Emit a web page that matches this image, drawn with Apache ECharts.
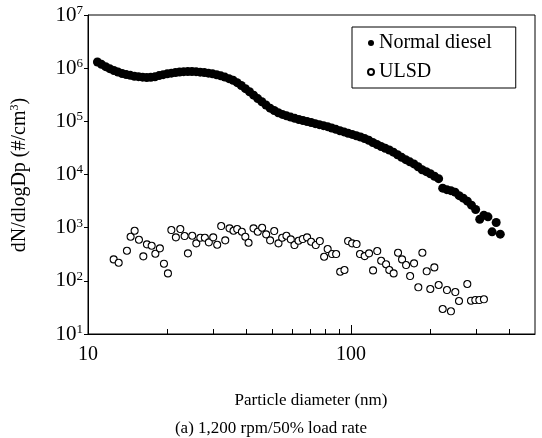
<!DOCTYPE html>
<html>
<head>
<meta charset="utf-8">
<script src="https://cdn.jsdelivr.net/npm/echarts@6/dist/echarts.min.js"></script>
<style>html,body{margin:0;padding:0;background:#fff}#c{width:542px;height:438px}</style>
</head>
<body>
<div id="c"></div>
<script>
const diameterNormal = [10.86, 11.25, 11.67, 12.09, 12.54, 13.00, 13.48, 13.97, 14.48, 15.01, 15.56, 16.13, 16.72, 17.33, 17.97, 18.63, 19.31, 20.01, 20.75, 21.51, 22.29, 23.11, 23.96, 24.84, 25.75, 26.69, 27.67, 28.69, 29.74, 30.83, 31.96, 33.13, 34.35, 35.60, 36.90, 38.25, 39.66, 41.11, 42.61, 44.17, 45.79, 47.47, 49.21, 51.01, 52.87, 54.81, 56.82, 58.90, 61.06, 63.30, 65.62, 68.02, 70.51, 73.09, 75.77, 78.55, 81.43, 84.41, 87.50, 90.71, 94.03, 97.46, 101.0, 104.7, 108.6, 112.5, 116.7, 120.9, 125.4, 130.0, 134.8, 139.7, 144.8, 150.1, 155.6, 161.3, 167.2, 173.3, 179.7, 186.2, 193.1, 200.1, 207.5, 215.1, 222.9, 231.1, 239.6, 248.4, 257.5, 266.9, 276.7, 286.8, 297.4, 308.3, 319.6, 331.3, 343.5, 356.0, 369.0];
const dNNormal = [1.308e6, 1.179e6, 1.067e6, 9.79e5, 9.02e5, 8.45e5, 7.94e5, 7.58e5, 7.32e5, 7.04e5, 6.92e5, 6.77e5, 6.66e5, 6.74e5, 6.86e5, 7.26e5, 7.55e5, 7.81e5, 8.05e5, 8.30e5, 8.45e5, 8.59e5, 8.61e5, 8.61e5, 8.59e5, 8.41e5, 8.30e5, 8.05e5, 7.81e5, 7.51e5, 7.17e5, 6.80e5, 6.35e5, 5.92e5, 5.34e5, 4.73e5, 4.12e5, 3.60e5, 3.11e5, 2.68e5, 2.33e5, 2.03e5, 1.77e5, 1.60e5, 1.45e5, 1.35e5, 1.27e5, 1.20e5, 1.14e5, 1.08e5, 1.035e5, 9.91e4, 9.49e4, 9.05e4, 8.67e4, 8.30e4, 7.95e4, 7.51e4, 7.07e4, 6.66e4, 6.32e4, 5.97e4, 5.67e4, 5.36e4, 5.07e4, 4.75e4, 4.41e4, 4.00e4, 3.66e4, 3.36e4, 3.12e4, 2.89e4, 2.63e4, 2.35e4, 2.10e4, 1.90e4, 1.73e4, 1.58e4, 1.40e4, 1.23e4, 1.13e4, 1.035e4, 9.29e3, 8.34e3, 5.53e3, 5.18e3, 4.96e3, 4.65e3, 4.00e3, 3.59e3, 3.15e3, 2.65e3, 2.20e3, 1.44e3, 1.72e3, 1.60e3, 834, 1.25e3, 755];
const diameterULSD = [12.52, 13.08, 14.06, 14.52, 15.04, 15.62, 16.23, 16.75, 17.46, 18.03, 18.76, 19.44, 20.13, 20.74, 21.58, 22.43, 23.29, 23.98, 24.90, 25.80, 26.72, 27.81, 28.79, 29.92, 30.98, 32.08, 33.24, 34.51, 35.74, 36.90, 38.44, 39.62, 40.76, 42.58, 44.19, 45.90, 47.55, 49.22, 51.03, 52.97, 54.70, 56.78, 58.98, 60.92, 63.12, 65.49, 68.03, 70.49, 73.40, 76.06, 78.98, 81.45, 84.66, 87.73, 90.89, 94.36, 97.40, 100.9, 104.9, 108.1, 112.6, 117.0, 121.2, 125.7, 130.1, 135.8, 139.7, 145.1, 150.8, 156.2, 161.8, 167.6, 173.5, 180.1, 186.6, 193.8, 200.0, 207.2, 215.2, 222.9, 231.4, 239.6, 248.9, 257.1, 276.5, 285.6, 296.6, 307.2, 319.8];
const dNULSD = [253, 219, 368, 674, 875, 593, 289, 485, 457, 323, 408, 210, 138, 902, 657, 942, 695, 329, 705, 507, 646, 646, 529, 657, 477, 1072, 577, 970, 875, 942, 838, 674, 520, 970, 838, 995, 748, 577, 863, 507, 646, 705, 603, 471, 568, 611, 657, 543, 471, 560, 284, 396, 319, 319, 148, 160, 560, 507, 492, 319, 292, 329, 157, 363, 239, 205, 160, 138, 337, 253, 198, 123, 213, 75.5, 337, 151, 70.2, 179, 83.4, 29.5, 67.1, 26.7, 61.5, 41.7, 87.1, 42.3, 43.5, 43.5, 44.9];
const xMajorTicks = [10, 100];
const xMinorTicks = [20, 30, 40, 50, 60, 70, 80, 90, 200, 300, 400];
const yTicks = [10, 1e2, 1e3, 1e4, 1e5, 1e6, 1e7];
const seriesNames = ['Normal diesel', 'ULSD'];
const xTitle = 'Particle diameter (nm)';
const caption = '(a) 1,200 rpm/50% load rate';

const FONT = 'Liberation Serif';
const chart = echarts.init(document.getElementById('c'), null, {renderer: 'canvas'});
const pairs = (xs, ys) => xs.map((x, i) => [x, ys[i]]);

chart.setOption({
  animation: false,
  backgroundColor: '#fff',
  grid: {left: 88, top: 15, right: 7, bottom: 104, show: true, borderColor: '#000', borderWidth: 1, backgroundColor: 'transparent'},
  legend: {
    data: seriesNames,
    orient: 'vertical',
    left: 352, top: 27,
    padding: [6, 24, 6, 15],
    itemGap: 9,
    itemWidth: 6, itemHeight: 6,
    borderColor: '#000', borderWidth: 1,
    backgroundColor: '#fff',
    textStyle: {fontFamily: FONT, fontSize: 20, color: '#000'}
  },
  xAxis: [{
    type: 'log', logBase: 10, min: 10, max: 500,
    position: 'bottom',
    axisLine: {show: true, lineStyle: {color: '#000', width: 1}},
    axisTick: {show: true, inside: true, length: 9, customValues: xMajorTicks, lineStyle: {color: '#000'}},
    axisLabel: {show: true, customValues: xMajorTicks, margin: 11, fontFamily: FONT, fontSize: 20, color: '#000', formatter: v => String(Math.round(v))},
    splitLine: {show: false}
  }, {
    type: 'log', logBase: 10, min: 10, max: 500,
    position: 'bottom',
    axisLine: {show: false},
    axisTick: {show: true, inside: true, length: 5, customValues: xMinorTicks, lineStyle: {color: '#000'}},
    axisLabel: {show: false},
    splitLine: {show: false}
  }],
  yAxis: {
    type: 'log', logBase: 10, min: 10, max: 1e7,
    axisLine: {show: true, lineStyle: {color: '#000', width: 1}},
    axisTick: {show: true, inside: false, length: 4, customValues: yTicks, lineStyle: {color: '#000'}},
    axisLabel: {
      customValues: yTicks, margin: 5, color: '#000',
      formatter: v => '{b|10}{s|' + Math.round(Math.log10(v)) + '}',
      rich: {
        b: {fontFamily: FONT, fontSize: 21, color: '#000', lineHeight: 22},
        s: {fontFamily: FONT, fontSize: 13, color: '#000', verticalAlign: 'top', lineHeight: 22, padding: [0, 0, 8, 0]}
      }
    },
    splitLine: {show: false}
  },
  series: [{
    name: seriesNames[0], type: 'scatter', xAxisIndex: 0,
    symbol: 'circle', symbolSize: 9,
    itemStyle: {color: '#000', opacity: 1},
    data: pairs(diameterNormal, dNNormal)
  }, {
    name: seriesNames[1], type: 'scatter', xAxisIndex: 0,
    symbol: 'circle', symbolSize: 7,
    itemStyle: {color: '#fff', borderColor: '#000', borderWidth: 1.1, opacity: 1},
    data: pairs(diameterULSD, dNULSD)
  }],
  graphic: [{
    type: 'text', x: 20, y: 175, rotation: Math.PI / 2,
    style: {
      text: '{b|dN/dlogDp (#/cm}{s|3}{b|)}',
      align: 'center', verticalAlign: 'middle',
      rich: {
        b: {fontFamily: FONT, fontSize: 20, fill: '#000', lineHeight: 22},
        s: {fontFamily: FONT, fontSize: 12, fill: '#000', verticalAlign: 'top', lineHeight: 22}
      }
    }
  }, {
    type: 'text', x: 311, y: 401,
    style: {text: xTitle, align: 'center', verticalAlign: 'middle', fontFamily: FONT, fontSize: 17, fill: '#000'}
  }, {
    type: 'text', x: 271, y: 429,
    style: {text: caption, align: 'center', verticalAlign: 'middle', fontFamily: FONT, fontSize: 17, fill: '#000'}
  }]
});
</script>
</body>
</html>
